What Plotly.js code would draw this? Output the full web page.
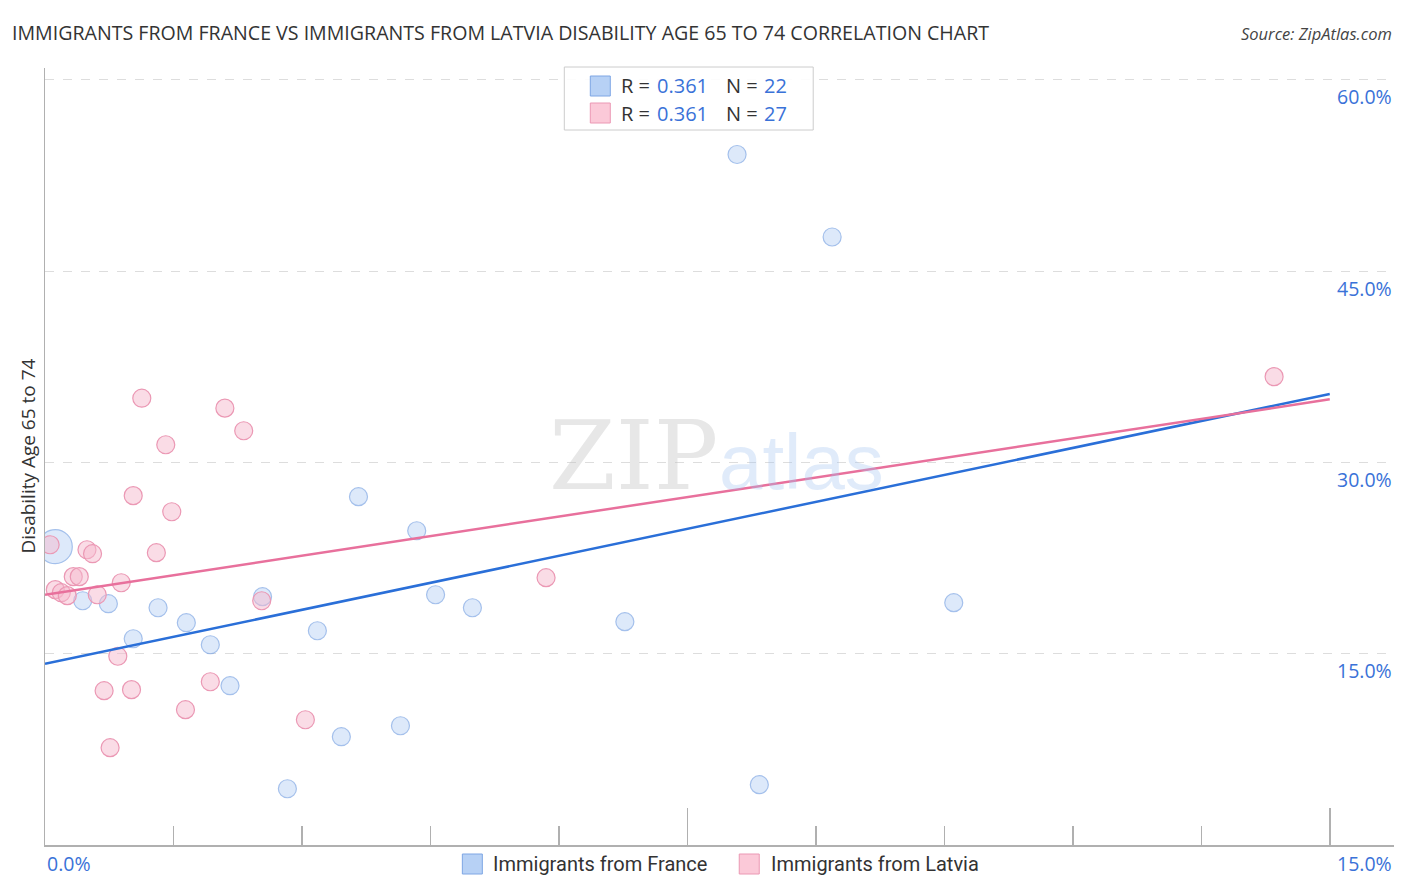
<!DOCTYPE html>
<html>
<head>
<meta charset="utf-8">
<script src="https://cdn.plot.ly/plotly-3.0.1.min.js"></script>
<style>html,body{margin:0;padding:0;background:#fff;}#chart{width:1406px;height:892px;}</style>
</head>
<body>
<div id="chart"></div>
<script>
// ---- Data ----
const franceX = [8.08, 9.19, 0.12, 0.44, 0.74, 1.03, 1.32, 1.65, 1.93, 2.16, 2.54, 2.83, 3.18, 3.46, 3.66, 4.15, 4.34, 4.56, 4.99, 6.77, 8.34, 10.61];
const franceY = [54.14, 47.67, 23.39, 19.15, 18.92, 16.17, 18.60, 17.43, 15.70, 12.49, 19.47, 4.41, 16.80, 8.49, 27.31, 9.35, 24.64, 19.62, 18.60, 17.51, 4.73, 19.00];
const latviaX = [14.35, 1.13, 2.10, 2.32, 1.41, 1.03, 1.48, 1.30, 0.06, 0.49, 0.555, 0.33, 0.40, 0.12, 0.19, 0.26, 0.61, 0.89, 2.53, 5.85, 0.85, 0.69, 1.01, 1.93, 1.64, 3.04, 0.76];
const latviaY = [36.72, 35.03, 34.25, 32.48, 31.38, 27.39, 26.13, 22.92, 23.54, 23.15, 22.84, 21.04, 21.04, 20.02, 19.78, 19.55, 19.62, 20.56, 19.15, 20.96, 14.80, 12.10, 12.18, 12.80, 10.61, 9.82, 7.63];
const trendX = [0, 15];
const franceTrend = [14.21, 35.36];
const latviaTrend = [19.62, 34.94];
const yTicks = [15, 30, 45, 60];
const yTickLabels = ["15.0%", "30.0%", "45.0%", "60.0%"];
const xTickLabels = ["0.0%", "15.0%"];
const seriesNames = ["Immigrants from France", "Immigrants from Latvia"];
const rValues = ["0.361", "0.361"];
const nValues = ["22", "27"];

// ---- Layout helpers (pixel -> paper) ----
const W = 1406, H = 892;
const M = {l: 44.5, r: 12, t: 68, b: 47};
const PW = W - M.l - M.r, PH = H - M.t - M.b;
const px = x => (x - M.l) / PW;
const py = y => (H - M.b - y) / PH;

const BLUE = "#3a72d8";
const DARK = "#333333";
const FONT = "Open Sans, Roboto, sans-serif";

const franceSizes = franceX.map((_, i) => i === 2 ? 34 : 18);

const traces = [
  {x: franceX, y: franceY, type: "scatter", mode: "markers", name: seriesNames[0],
   marker: {size: franceSizes, color: "rgba(170,200,242,0.55)", line: {color: "#7ea6e4", width: 1.2}}, hoverinfo: "x+y"},
  {x: latviaX, y: latviaY, type: "scatter", mode: "markers", name: seriesNames[1],
   marker: {size: 18, color: "rgba(246,186,206,0.5)", line: {color: "#eb98b4", width: 1.2}}, hoverinfo: "x+y"},
  {x: trendX, y: franceTrend, type: "scatter", mode: "lines", line: {color: "#2a6fd8", width: 2.5}, hoverinfo: "skip"},
  {x: trendX, y: latviaTrend, type: "scatter", mode: "lines", line: {color: "#e8709c", width: 2.5}, hoverinfo: "skip"}
];

const annotations = [];
// watermark
annotations.push({xref: "paper", yref: "paper", x: px(633), y: py(456), text: "ZIP", showarrow: false,
  font: {family: "DejaVu Serif, Liberation Serif, serif", size: 96, color: "rgba(195,195,195,0.4)"}, xanchor: "center", yanchor: "middle"});
annotations.push({xref: "paper", yref: "paper", x: px(801), y: py(462), text: "atlas", showarrow: false,
  font: {family: "Liberation Sans, Arial, sans-serif", size: 78, color: "rgba(160,195,240,0.33)"}, xanchor: "center", yanchor: "middle"});
// y tick labels
yTicks.forEach((v, i) => annotations.push({xref: "paper", yref: "y", x: 1, y: v, yshift: -17, text: yTickLabels[i],
  showarrow: false, xanchor: "right", yanchor: "middle", font: {family: FONT, size: 19.5, color: BLUE}}));
// x tick labels
annotations.push({xref: "paper", yref: "paper", x: px(44), y: py(863), text: xTickLabels[0], showarrow: false,
  xanchor: "left", yanchor: "middle", font: {family: FONT, size: 19.5, color: BLUE}});
annotations.push({xref: "paper", yref: "paper", x: 1, y: py(863), text: xTickLabels[1], showarrow: false,
  xanchor: "right", yanchor: "middle", font: {family: FONT, size: 19.5, color: BLUE}});
// y title
annotations.push({xref: "paper", yref: "paper", x: px(27), y: py(456), text: "Disability Age 65 to 74", textangle: -90,
  showarrow: false, xanchor: "center", yanchor: "middle", font: {family: FONT, size: 19, color: DARK}});
// source
annotations.push({xref: "paper", yref: "paper", x: 1, y: py(33), text: "<i>Source: ZipAtlas.com</i>", showarrow: false,
  xanchor: "right", yanchor: "middle", font: {family: FONT, size: 16.5, color: "#444"}});
// top legend
const rowY = [86, 113];
rowY.forEach((ry, i) => {
  annotations.push({xref: "paper", yref: "paper", x: px(619), y: py(ry), text: "R = ", showarrow: false, xanchor: "left", yanchor: "middle", font: {family: FONT, size: 20, color: DARK}});
  annotations.push({xref: "paper", yref: "paper", x: px(655), y: py(ry), text: rValues[i], showarrow: false, xanchor: "left", yanchor: "middle", font: {family: FONT, size: 20, color: BLUE}});
  annotations.push({xref: "paper", yref: "paper", x: px(724), y: py(ry), text: "N = ", showarrow: false, xanchor: "left", yanchor: "middle", font: {family: FONT, size: 20, color: DARK}});
  annotations.push({xref: "paper", yref: "paper", x: px(762), y: py(ry), text: nValues[i], showarrow: false, xanchor: "left", yanchor: "middle", font: {family: FONT, size: 20, color: BLUE}});
});
// bottom legend
annotations.push({xref: "paper", yref: "paper", x: px(491), y: py(864), text: seriesNames[0], showarrow: false, xanchor: "left", yanchor: "middle", font: {family: "Roboto, sans-serif", size: 20, color: DARK}});
annotations.push({xref: "paper", yref: "paper", x: px(769), y: py(864), text: seriesNames[1], showarrow: false, xanchor: "left", yanchor: "middle", font: {family: "Roboto, sans-serif", size: 20, color: DARK}});

const shapes = [
  {type: "rect", xref: "paper", yref: "paper", x0: px(564), x1: px(813), y0: py(67), y1: py(130), line: {color: "#cccccc", width: 1}, fillcolor: "rgba(255,255,255,0.9)"},
  {type: "rect", xref: "paper", yref: "paper", x0: px(590), x1: px(610), y0: py(76), y1: py(96), line: {color: "#7ea6e4", width: 1}, fillcolor: "#b7d1f5"},
  {type: "rect", xref: "paper", yref: "paper", x0: px(590), x1: px(610), y0: py(103), y1: py(123), line: {color: "#eb98b4", width: 1}, fillcolor: "#fbc9d8"},
  {type: "rect", xref: "paper", yref: "paper", x0: px(462), x1: px(482), y0: py(854), y1: py(874), line: {color: "#7ea6e4", width: 1}, fillcolor: "#b7d1f5"},
  {type: "rect", xref: "paper", yref: "paper", x0: px(739), x1: px(759), y0: py(854), y1: py(874), line: {color: "#eb98b4", width: 1}, fillcolor: "#fbc9d8"}
];

const layout = {
  width: W, height: H,
  margin: M,
  paper_bgcolor: "#fff", plot_bgcolor: "#fff",
  showlegend: false,
  title: {text: "IMMIGRANTS FROM FRANCE VS IMMIGRANTS FROM LATVIA DISABILITY AGE 65 TO 74 CORRELATION CHART",
    x: 12 / W, xanchor: "left", xref: "container", y: 1 - 33 / H, yanchor: "middle", yref: "container",
    font: {family: FONT, size: 19.6, color: DARK}},
  xaxis: {range: [0, 15.75], showgrid: false, zeroline: false, showline: true, linecolor: "#b0b0b0", linewidth: 1.5,
    ticks: "inside", tickvals: [0, 7.5, 15], ticklen: 37, tickcolor: "#b0b0b0", tickwidth: 1.5, showticklabels: false,
    minor: {tick0: 0, dtick: 1.5, ticks: "inside", ticklen: 19, tickcolor: "#b0b0b0", tickwidth: 1.5, showgrid: false}},
  yaxis: {range: [0, 60.92], showgrid: true, gridcolor: "#dddddd", griddash: "dash", gridwidth: 1,
    tickvals: yTicks, showticklabels: false, ticks: "", zeroline: false, showline: true, linecolor: "#b0b0b0", linewidth: 1.5},
  annotations: annotations,
  shapes: shapes
};

Plotly.newPlot("chart", traces, layout, {displayModeBar: false, staticPlot: true});
</script>
</body>
</html>
